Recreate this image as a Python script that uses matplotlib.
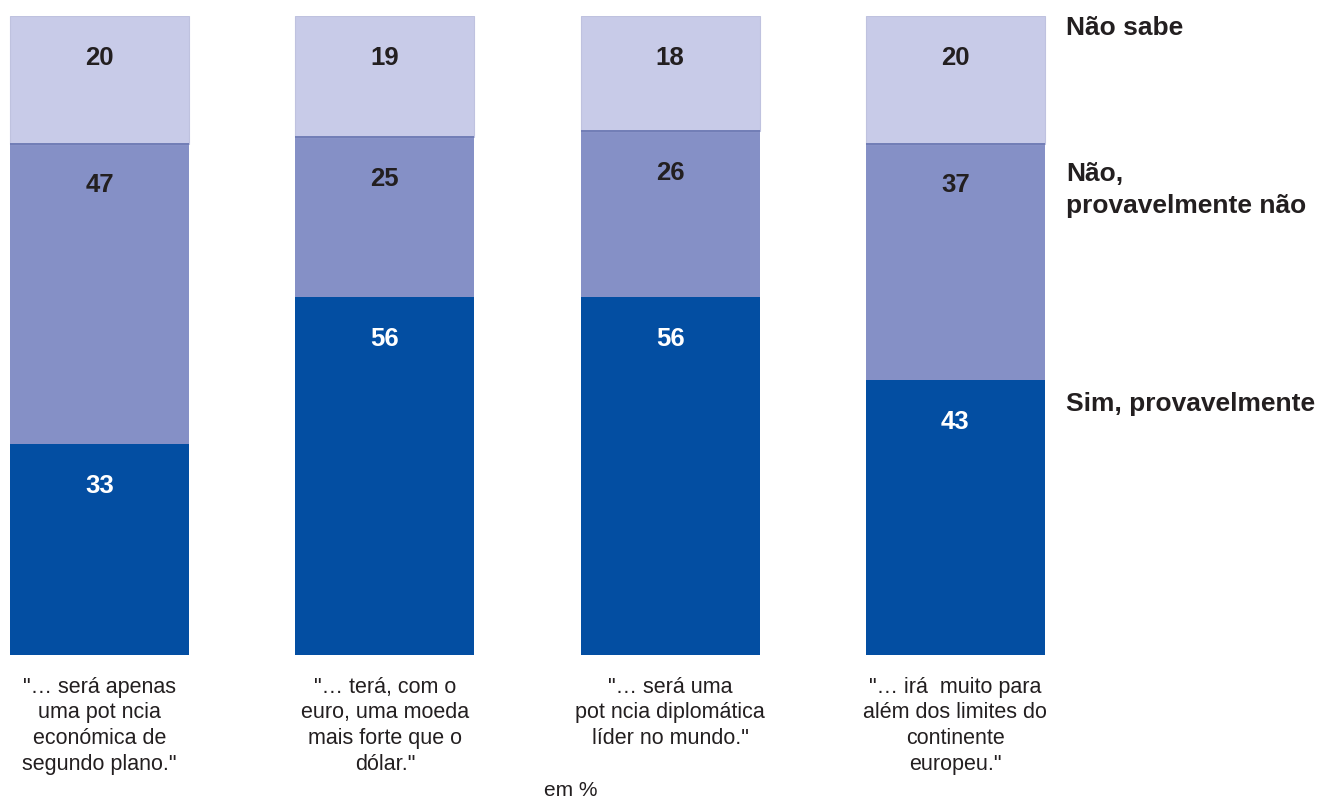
import numpy as np
import matplotlib
matplotlib.use('Agg')
import matplotlib.pyplot as plt

plt.rcParams['font.family'] = ['Liberation Sans', 'DejaVu Sans']

# Survey answers, in %
statements = ['"… será apenas\numa pot ncia\neconómica de\nsegundo plano."',
              '"… terá, com o\neuro, uma moeda\nmais forte que o\ndólar."',
              '"… será uma\npot ncia diplomática\nlíder no mundo."',
              '"… irá  muito para\nalém dos limites do\ncontinente\neuropeu."']
sim = np.array([33, 56, 56, 43])
nao = np.array([47, 25, 26, 37])
nao_sabe = np.array([20, 19, 18, 20])
answers = ['Sim, provavelmente', 'Não,\nprovavelmente não', 'Não sabe']

dark = '#034ea2'
mid = '#8590c6'
light = '#c8cbe8'
ink = '#231f20'

fig = plt.figure(figsize=(13.24, 7.98), dpi=100)
ax = fig.add_axes([0, 143 / 798, 1, 639 / 798])

x = np.arange(len(statements))
w = 0.627
ax.bar(x, sim, width=w, color=dark)
ax.bar(x, nao, width=w, bottom=sim, color=mid)
ax.bar(x, nao_sabe, width=w, bottom=sim + nao, color=light,
       edgecolor='#bfc2df', linewidth=0.8)
ax.hlines(sim + nao, x - w / 2, x + w / 2, color='#6a77b2', linewidth=1.3)

# values near the top of each segment
off = 6.5
for i in x:
    ax.text(i, sim[i] - off, str(sim[i]), ha='center', va='center',
            fontsize=18.5, fontweight='bold', color='white')
    ax.text(i, sim[i] + nao[i] - off, str(nao[i]), ha='center', va='center',
            fontsize=18.5, fontweight='bold', color=ink)
    ax.text(i, 100 - off, str(nao_sabe[i]), ha='center', va='center',
            fontsize=18.5, fontweight='bold', color=ink)
    ax.text(i, -3.4, statements[i], ha='center', va='top', fontsize=15.5,
            linespacing=1.29, color=ink)

# answer labels on the right
lx = 3.388
ax.text(lx, 39.3, answers[0], ha='left', va='center', fontsize=19,
        fontweight='bold', color=ink)
ax.text(lx, 72.8, answers[1], ha='left', va='center', fontsize=19,
        fontweight='bold', color=ink, linespacing=1.42)
ax.text(lx, 98.1, answers[2], ha='left', va='center', fontsize=19,
        fontweight='bold', color=ink)

fig.text(571 / 1324, 1 - 791 / 798, 'em %', ha='center', va='center',
         fontsize=15, color=ink)

ax.set_xlim(-0.349, 4.292)
ax.set_ylim(0, 100)
ax.axis('off')

fig.savefig('out.png', dpi=100)
